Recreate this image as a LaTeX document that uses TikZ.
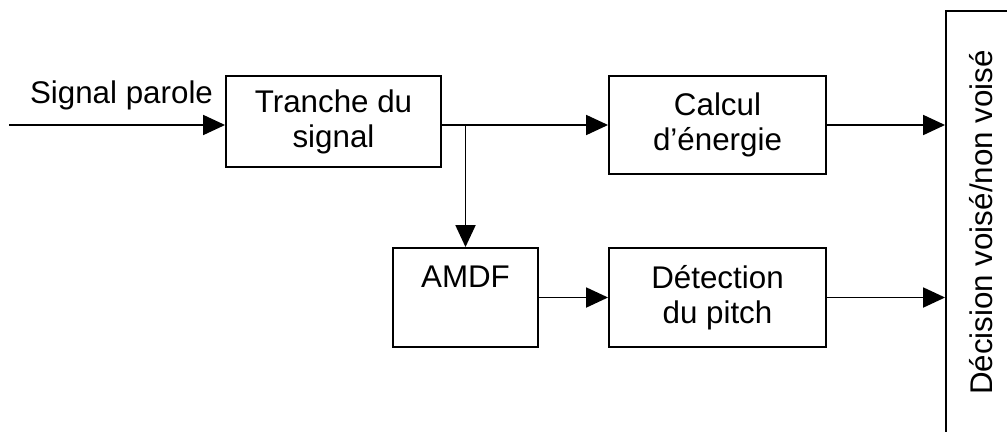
\documentclass[tikz,border=0pt]{standalone}
\usepackage{fontspec}
\setmainfont{Liberation Sans}
\usetikzlibrary{arrows.meta}

\tikzstyle{every node}=[font=\fontsize{23.5pt}{26.25pt}\selectfont]
\tikzstyle{bloc}=[draw, line width=1.4pt, align=center, inner sep=0pt]
\tikzstyle{fleche}=[line width=1.4pt, -{Triangle[length=16.5pt,width=15pt]}]

\begin{document}
\begin{tikzpicture}[x=0.75pt, y=-0.75pt]
    \useasboundingbox (0,0) rectangle (1007,432);
    \clip (0,0) rectangle (1007,432);
    \node[bloc, minimum width=161.25pt, minimum height=68.25pt] (tranche) at (333.5,121.5) {Tranche du\\signal};
    \node[bloc, minimum width=162.75pt, minimum height=73.5pt] (calcul) at (717.5,125) {Calcul\\d’énergie};
    \node[bloc, minimum width=108.75pt, minimum height=74.25pt] (amdf) at (465.5,297.5) {AMDF\\\vphantom{p}};
    \node[bloc, minimum width=162.75pt, minimum height=74.25pt] (detect) at (717.5,297.5) {Détection\\du pitch};
    \node[bloc, minimum width=63pt, minimum height=336.75pt] (decision) at (988,235.5) {};
    \node[rotate=90, inner sep=0pt] (decisiontxt) at (981.5,222.5) {Décision voisé/non voisé};
    \node[anchor=base, inner sep=0pt] (parole) at (121.5,103) {Signal parole};
    \coordinate (entree) at (9,125);
    \path[fleche]
    (entree) edge (entree -| tranche.west)
    (tranche.east |- calcul.west) edge (calcul.west)
    (amdf.north |- calcul.west) edge (amdf.north)
    (amdf.east) edge (detect.west)
    (calcul.east) edge (calcul.east -| decision.west)
    (detect.east) edge (detect.east -| decision.west)
	;
\end{tikzpicture}
\end{document}
